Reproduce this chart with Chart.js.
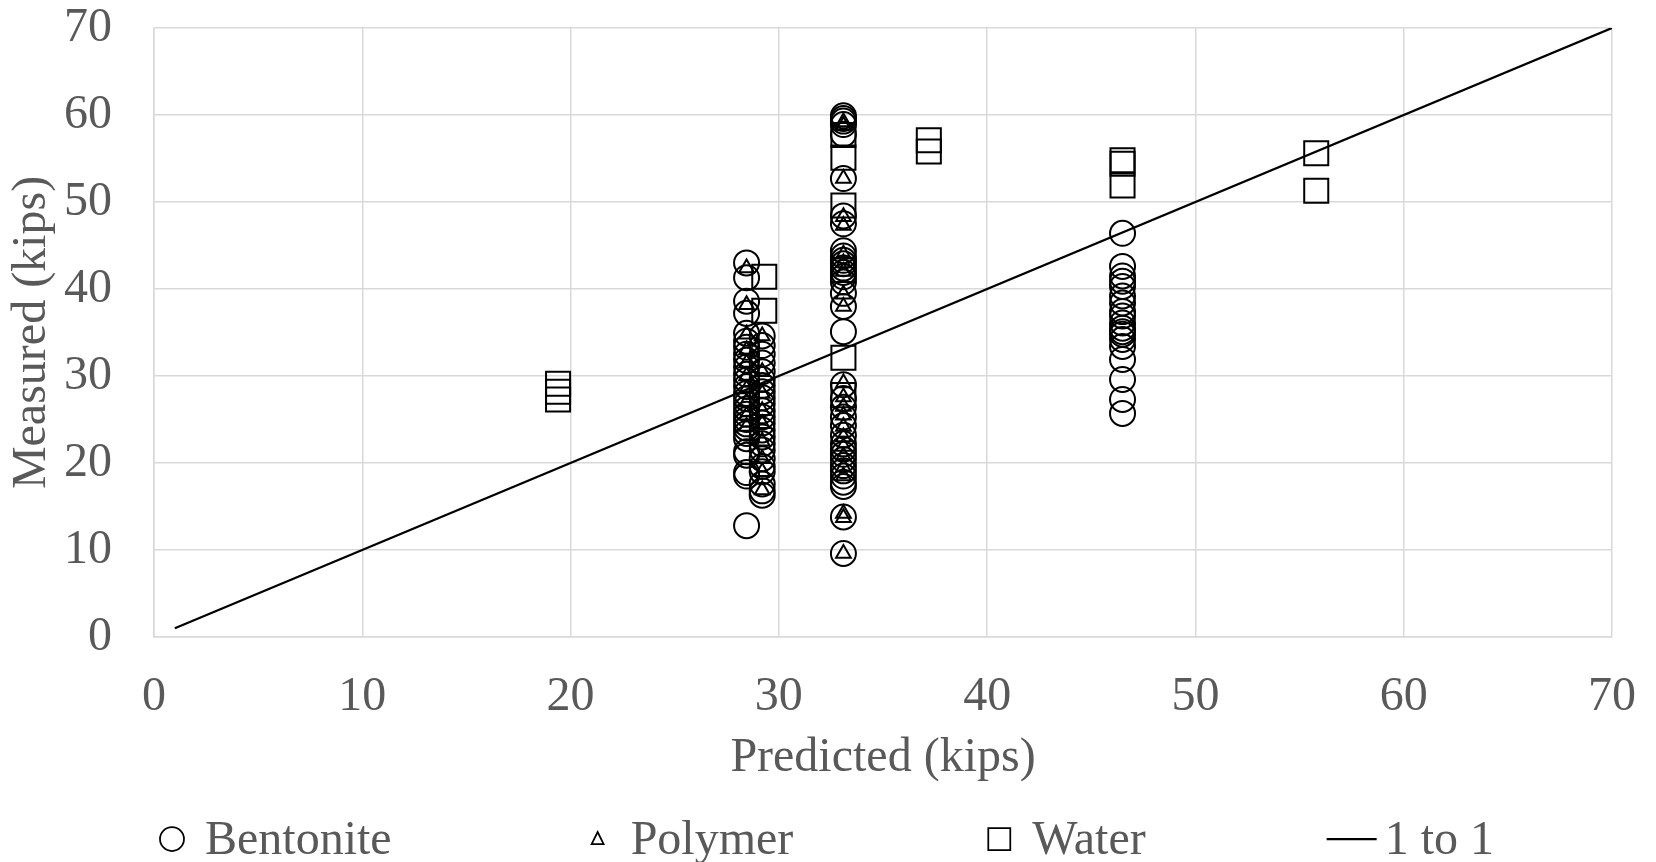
<!DOCTYPE html>
<html>
<head>
<meta charset="UTF-8">
<title>Predicted vs Measured</title>
<script src="https://cdn.jsdelivr.net/npm/chart.js"></script>
<style>
html, body { margin: 0; padding: 0; background: #fff; }
</style>
</head>
<body>
<canvas id="myChart" width="1656" height="862"></canvas>
<script>
// predicted capacity of each group (x) and the measured values in that group (y)
const bentonitePred = [28.45, 29.2, 33.1, 46.5];
const bentoniteMeas = [
  [43.0, 41.3, 38.6, 37.2, 34.9, 34.0, 33.3, 32.5, 31.8, 31.0, 30.2, 29.5, 28.8, 28.0, 27.4, 26.8, 26.2, 25.6, 25.0, 24.5, 24.0, 23.4, 22.8, 21.3, 20.9, 18.9, 18.5, 12.8],
  [34.6, 33.5, 32.5, 31.5, 30.5, 29.6, 28.9, 28.2, 27.5, 26.8, 26.0, 25.3, 24.6, 23.8, 23.0, 22.2, 21.5, 20.5, 19.6, 19.0, 17.6, 16.8, 16.3],
  [59.9, 59.6, 59.3, 58.9, 57.8, 52.7, 48.4, 47.5, 44.4, 43.8, 43.3, 42.9, 42.4, 41.9, 41.4, 40.8, 39.5, 38.0, 35.1, 29.0, 27.4, 26.4, 25.3, 24.3, 23.2, 22.2, 21.6, 21.0, 20.4, 19.7, 19.1, 18.5, 17.8, 17.3, 13.8, 9.6],
  [46.4, 42.6, 41.5, 40.9, 40.3, 39.2, 38.4, 37.4, 36.9, 36.1, 35.5, 35.1, 34.8, 34.2, 33.4, 31.9, 29.6, 27.3, 25.7]
];

const polymerPred = [28.45, 29.2, 33.1];
const polymerMeas = [
  [42.4, 38.2, 34.8, 33.0, 31.5, 30.0, 28.5, 27.0, 25.5, 24.2],
  [34.6, 30.5, 28.0, 26.0, 24.5, 22.5, 20.5, 19.0, 16.9],
  [59.2, 58.8, 52.7, 48.3, 47.3, 44.0, 43.0, 42.0, 39.4, 38.0, 29.2, 27.6, 26.5, 25.5, 24.2, 23.0, 21.9, 20.8, 19.5, 18.5, 14.2, 13.7, 9.6]
];

const waterPred = [19.4, 29.3, 33.1, 37.2, 46.5, 55.8];
const waterMeas = [
  [29.1, 28.2, 27.3],
  [41.4, 37.5],
  [57.7, 55.1, 49.6, 42.2, 32.1, 27.8],
  [57.1, 55.8],
  [54.8, 54.4, 51.9],
  [55.6, 51.3]
];

const oneToOne = [1, 70];

const xTicks = [0, 10, 20, 30, 40, 50, 60, 70];
const yTicks = [0, 10, 20, 30, 40, 50, 60, 70];

const seriesNames = ['Bentonite', 'Polymer', 'Water', '1 to 1'];

function toPoints(pred, meas) {
  const pts = [];
  pred.forEach(function(x, i) {
    meas[i].forEach(function(y) { pts.push({x: x, y: y}); });
  });
  return pts;
}

const textGray = '#595959';
const gridGray = '#d9d9d9';
const serif = "'Liberation Serif', 'Times New Roman', serif";
const fontSize = 48;

// legend along the bottom, drawn after the chart
const bottomLegend = {
  id: 'bottomLegend',
  afterDraw(chart) {
    const ctx = chart.ctx;
    const ds = chart.data.datasets;
    const box = 24, gapText = 21, gapItem = 194;
    ctx.save();
    ctx.font = fontSize + 'px ' + serif;
    const widths = ds.map(d => box + gapText + ctx.measureText(d.label).width);
    const total = widths.reduce((a, b) => a + b, 0) + gapItem * (ds.length - 1);
    let x = chart.width / 2 - 1 - total / 2;
    const y = 839;
    ds.forEach(function(d, i) {
      const cx = x + box / 2;
      ctx.strokeStyle = '#000';
      ctx.lineWidth = 1.75;
      ctx.beginPath();
      if (d.legendStyle === 'circle') {
        ctx.arc(cx, y, 12, 0, Math.PI * 2);
      } else if (d.legendStyle === 'triangle') {
        ctx.moveTo(cx, y - 7);
        ctx.lineTo(cx + 6, y + 5);
        ctx.lineTo(cx - 6, y + 5);
        ctx.closePath();
      } else if (d.legendStyle === 'rect') {
        ctx.rect(cx - 11, y - 11, 22, 22);
      } else {
        ctx.lineWidth = 2.25;
        ctx.moveTo(cx - 25, y);
        ctx.lineTo(cx + 25, y);
      }
      ctx.stroke();
      ctx.fillStyle = textGray;
      ctx.textBaseline = 'middle';
      ctx.textAlign = 'left';
      ctx.fillText(d.label, x + box + gapText, y + 2);
      x += widths[i] + gapItem;
    });
    ctx.restore();
  }
};

const ctx = document.getElementById('myChart').getContext('2d');
const myChart = new Chart(ctx, {
  type: 'scatter',
  data: {
    datasets: [{
      label: seriesNames[0],
      data: toPoints(bentonitePred, bentoniteMeas),
      pointStyle: 'circle',
      legendStyle: 'circle',
      pointRadius: 12.5,
      borderColor: '#000',
      backgroundColor: 'rgba(0,0,0,0)',
      borderWidth: 2
    }, {
      label: seriesNames[1],
      data: toPoints(polymerPred, polymerMeas),
      pointStyle: 'triangle',
      legendStyle: 'triangle',
      pointRadius: 8.5,
      borderColor: '#000',
      backgroundColor: 'rgba(0,0,0,0)',
      borderWidth: 2
    }, {
      label: seriesNames[2],
      data: toPoints(waterPred, waterMeas),
      pointStyle: 'rect',
      legendStyle: 'rect',
      pointRadius: 17,
      borderColor: '#000',
      backgroundColor: 'rgba(0,0,0,0)',
      borderWidth: 2
    }, {
      label: seriesNames[3],
      type: 'line',
      legendStyle: 'line',
      data: oneToOne.map(v => ({x: v, y: v})),
      borderColor: '#000',
      borderWidth: 2.25,
      pointRadius: 0,
      fill: false
    }]
  },
  options: {
    responsive: false,
    animation: false,
    events: [],
    layout: { padding: { top: 28, right: 44, bottom: 75, left: 0 } },
    plugins: {
      legend: { display: false },
      tooltip: { enabled: false }
    },
    scales: {
      x: {
        type: 'linear',
        min: 0,
        max: 70,
        afterBuildTicks: s => { s.ticks = xTicks.map(v => ({value: v})); },
        afterFit: s => { s.height = 150; s.paddingLeft = 0; s.paddingRight = 0; },
        grid: { color: gridGray, lineWidth: 1.5, drawTicks: false },
        border: { color: gridGray, width: 1.5 },
        ticks: { color: textGray, font: { family: serif, size: fontSize }, padding: 32, maxRotation: 0 },
        title: { display: true, text: 'Predicted (kips)', color: textGray, font: { family: serif, size: fontSize }, padding: { top: 4, bottom: 0 } }
      },
      y: {
        type: 'linear',
        min: 0,
        max: 70,
        afterBuildTicks: s => { s.ticks = yTicks.map(v => ({value: v})); },
        afterFit: s => { s.width = 154; s.paddingTop = 0; s.paddingBottom = 0; },
        grid: { color: gridGray, lineWidth: 1.5, drawTicks: false },
        border: { color: gridGray, width: 1.5 },
        ticks: { color: textGray, font: { family: serif, size: fontSize }, padding: 42 },
        title: { display: true, text: 'Measured (kips)', color: textGray, font: { family: serif, size: fontSize }, padding: { top: 4, bottom: 0 } }
      }
    }
  },
  plugins: [bottomLegend]
});
</script>
</body>
</html>
